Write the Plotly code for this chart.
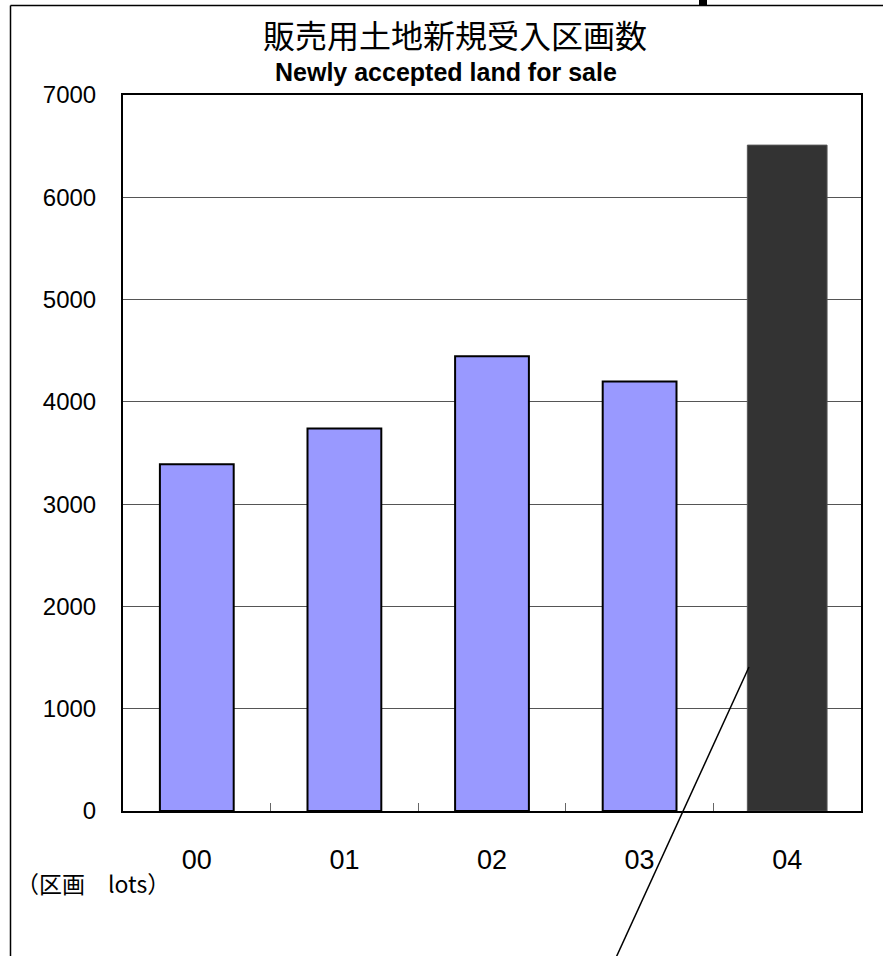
import plotly.graph_objects as go

# ---- data ----
years = ["00", "01", "02", "03", "04"]
lots = [3390, 3740, 4445, 4200, 6510]
bar_colors = ["#9999FF", "#9999FF", "#9999FF", "#9999FF", "#333333"]
line_colors = ["#000000", "#000000", "#000000", "#000000", "#555555"]
line_widths = [2, 2, 2, 2, 1]
bar_widths = [0.5, 0.5, 0.5, 0.5, 0.54]
y_ticks = [0, 1000, 2000, 3000, 4000, 5000, 6000, 7000]

title_jp = "販売用土地新規受入区画数"
title_en = "Newly accepted land for sale"
unit_label = "（区画\u3000lots）"

W, H = 883, 956
L, R, T, B = 123, 861, 95, 811  # plot area in pixels


def px(x):
    return (x - L) / (R - L)


def py(y):
    return (B - y) / (B - T)


fig = go.Figure()
fig.add_trace(go.Bar(
    x=years, y=lots, width=bar_widths,
    marker=dict(color=bar_colors, line=dict(color=line_colors, width=line_widths)),
    showlegend=False, hoverinfo="x+y",
))

fig.update_layout(
    width=W, height=H,
    margin=dict(l=L, r=W - R, t=T, b=H - B, pad=0),
    paper_bgcolor="white", plot_bgcolor="white",
    font=dict(family="Liberation Sans, Arial, sans-serif", color="black"),
    bargap=0.5,
)

fig.update_xaxes(
    type="category",
    showline=True, linecolor="black", linewidth=2, mirror=True,
    showgrid=False,
    ticks="inside", tickson="boundaries", ticklen=8, tickcolor="#666666", tickwidth=1,
    tickfont=dict(size=27, family="Liberation Sans, Arial, sans-serif"),
    ticklabelstandoff=24,
)
fig.update_yaxes(
    range=[0, 7000],
    tickvals=y_ticks,
    showline=True, linecolor="black", linewidth=2, mirror=True,
    showgrid=True, gridcolor="#555555", gridwidth=1,
    ticks="", zeroline=False,
    tickfont=dict(size=24, family="Liberation Sans, Arial, sans-serif"),
    ticklabelstandoff=20,
)

annotations = [
    dict(text=title_jp, x=px(455), y=py(34), xref="paper", yref="paper",
         xanchor="center", yanchor="middle", showarrow=False,
         font=dict(size=32, family="Noto Sans CJK JP, sans-serif", color="black")),
    dict(text="<b>" + title_en + "</b>", x=px(446), y=py(72), xref="paper", yref="paper",
         xanchor="center", yanchor="middle", showarrow=False,
         font=dict(size=25, family="Liberation Sans, Arial, sans-serif", color="black")),
    dict(text=unit_label, x=px(14), y=py(883), xref="paper", yref="paper",
         xanchor="left", yanchor="middle", showarrow=False,
         font=dict(size=23, family="Noto Sans CJK JP, sans-serif", color="black")),
]
fig.update_layout(annotations=annotations)

shapes = [
    # outer frame (left and top edges)
    dict(type="line", xref="paper", yref="paper", x0=px(10.5), y0=py(H + 5), x1=px(10.5), y1=py(5.5),
         line=dict(color="black", width=1.5)),
    dict(type="line", xref="paper", yref="paper", x0=px(10.5), y0=py(5.5), x1=px(W + 5), y1=py(5.5),
         line=dict(color="black", width=1.5)),
    dict(type="rect", xref="paper", yref="paper", x0=px(699), y0=py(5.5), x1=px(707), y1=py(-2),
         fillcolor="black", line=dict(width=0)),
    # leader line
    dict(type="line", xref="paper", yref="paper", x0=px(749), y0=py(667), x1=px(614), y1=py(962),
         line=dict(color="black", width=1.5)),
]
fig.update_layout(shapes=shapes)

fig.write_html("out.html", config={"displayModeBar": False},
               post_script="document.body.style.margin='0';")
